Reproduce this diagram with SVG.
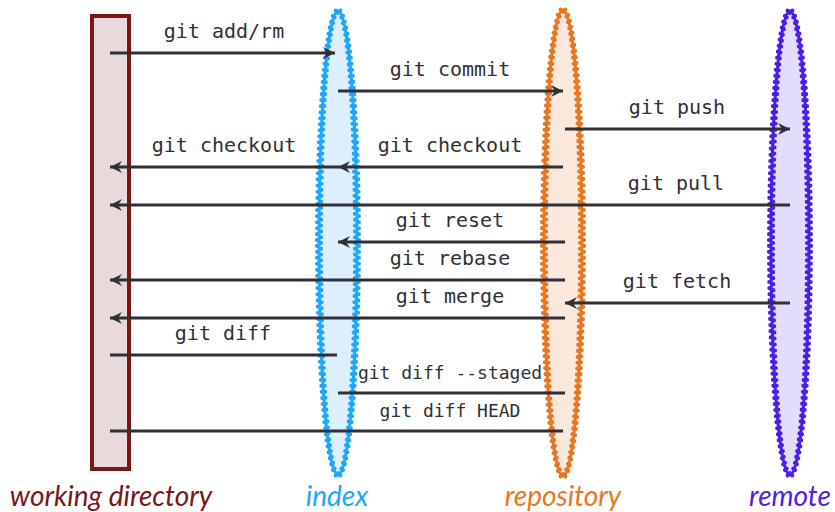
<svg xmlns="http://www.w3.org/2000/svg" width="835" height="512" viewBox="0 0 835 512">
<style>
.lbl{font-family:"DejaVu Sans Mono","Liberation Mono",monospace;font-size:20px;fill:#2f3136;text-anchor:middle}
.sm{font-size:18px}
.cap{font-family:Lato,"Open Sans",sans-serif;font-style:italic;font-size:28px;text-anchor:middle}
.ln{stroke:#2f3136;stroke-width:3;fill:none}
.wave{stroke-width:3}
.bi{stroke-width:4.2;stroke-dasharray:0 6;stroke-linecap:round;fill:none}
.bo{stroke-width:4.2;stroke-dasharray:0 6;stroke-dashoffset:3;stroke-linecap:round;fill:none}
</style>
<defs>
<marker id="ah" viewBox="0 0 14 14" refX="13" refY="7" markerWidth="14" markerHeight="14" markerUnits="userSpaceOnUse" orient="auto">
<path d="M1,1 L13,7 L1,13 L5,7 Z" fill="#2f3136"/>
</marker>
</defs>
<g id="workdir">
<rect x="92" y="16" width="37" height="453" fill="#e8d9da" stroke="#7a1518" stroke-width="4"/>
<text class="cap" x="111" y="506" fill="#7a1518">working directory</text>
</g>
<g id="index">
<ellipse cx="338" cy="243" rx="19" ry="232" fill="#ddeffc" stroke="#1ea8fd" class="wave"/>
<ellipse cx="338" cy="243" rx="17" ry="230" pathLength="936" stroke="#1ea8fd" class="bi"/>
<ellipse cx="338" cy="243" rx="21" ry="234" pathLength="936" stroke="#1ea8fd" class="bo"/>
<text class="cap" x="337" y="506" fill="#1ea8fd">index</text>
</g>
<g id="repository">
<ellipse cx="563" cy="243" rx="19" ry="233" fill="#fbe8dc" stroke="#e87722" class="wave"/>
<ellipse cx="563" cy="243" rx="17" ry="231" pathLength="936" stroke="#e87722" class="bi"/>
<ellipse cx="563" cy="243" rx="21" ry="235" pathLength="936" stroke="#e87722" class="bo"/>
<text class="cap" x="563" y="506" fill="#e87722">repository</text>
</g>
<g id="remote">
<ellipse cx="790" cy="243" rx="19" ry="232" fill="#e3ddfb" stroke="#4b1fe8" class="wave"/>
<ellipse cx="790" cy="243" rx="17" ry="230" pathLength="936" stroke="#4b1fe8" class="bi"/>
<ellipse cx="790" cy="243" rx="21" ry="234" pathLength="936" stroke="#4b1fe8" class="bo"/>
<text class="cap" x="790" y="506" fill="#4b1fe8">remote</text>
</g>
<g id="connectors">
<line class="ln" x1="110" y1="53" x2="335" y2="53" marker-end="url(#ah)"/>
<line class="ln" x1="338" y1="91" x2="563" y2="91" marker-end="url(#ah)"/>
<line class="ln" x1="565" y1="129" x2="790" y2="129" marker-end="url(#ah)"/>
<line class="ln" x1="563" y1="167" x2="338" y2="167" marker-end="url(#ah)"/>
<line class="ln" x1="338" y1="167" x2="110" y2="167" marker-end="url(#ah)"/>
<line class="ln" x1="790" y1="205" x2="110" y2="205" marker-end="url(#ah)"/>
<line class="ln" x1="565" y1="242" x2="338" y2="242" marker-end="url(#ah)"/>
<line class="ln" x1="565" y1="280" x2="110" y2="280" marker-end="url(#ah)"/>
<line class="ln" x1="790" y1="303" x2="565" y2="303" marker-end="url(#ah)"/>
<line class="ln" x1="565" y1="318" x2="110" y2="318" marker-end="url(#ah)"/>
<line class="ln" x1="110" y1="355" x2="337" y2="355"/>
<line class="ln" x1="338" y1="393" x2="565" y2="393"/>
<line class="ln" x1="110" y1="431" x2="563" y2="431"/>
</g>
<g id="labels">
<text class="lbl" x="224" y="38">git add/rm</text>
<text class="lbl" x="450" y="76">git commit</text>
<text class="lbl" x="677" y="114">git push</text>
<text class="lbl" x="450" y="152">git checkout</text>
<text class="lbl" x="224" y="152">git checkout</text>
<text class="lbl" x="676" y="190">git pull</text>
<text class="lbl" x="450" y="227">git reset</text>
<text class="lbl" x="450" y="265">git rebase</text>
<text class="lbl" x="677" y="288">git fetch</text>
<text class="lbl" x="450" y="303">git merge</text>
<text class="lbl" x="223" y="340">git diff</text>
<text class="lbl sm" x="450" y="379">git diff --staged</text>
<text class="lbl sm" x="450" y="417">git diff HEAD</text>
</g>
</svg>
